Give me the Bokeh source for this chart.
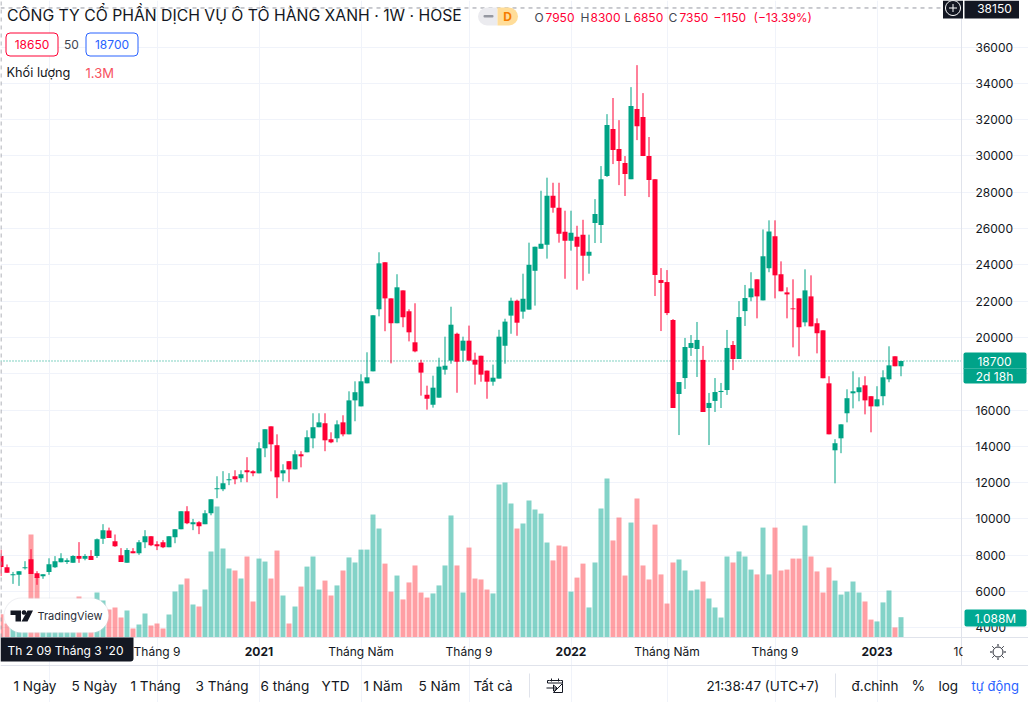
import math
from bokeh.plotting import figure
from bokeh.embed import file_html
from bokeh.resources import INLINE
from bokeh.models import (ColumnDataSource, Label, BoxAnnotation, PolyAnnotation,
                          FixedTicker, Range1d, BasicTickFormatter)

ohlc = [
(7950,8300,6850,7350),(7340,7490,7030,7030),(6900,7080,6420,6950),(6920,7120,6310,7120),(7280,7670,7210,7340),
(7780,8330,6970,6970),(7010,7120,6370,6750),(6840,6950,6700,6950),(7080,7830,6920,7500),(7340,7950,7300,7670),
(7610,8110,7610,7830),(7630,7830,7520,7720),(7580,8000,7580,7950),(7950,8720,7580,7800),(7800,8060,7720,7950),
(7950,8280,7740,7740),(7950,8920,7850,8880),(8900,9710,8620,9380),(9360,9520,8950,8950),(8770,9140,8460,8500),
(8000,8390,7630,7630),(7580,8390,7580,8280),(8220,8390,8110,8110),(8110,8830,8020,8720),(8720,9380,8390,9050),
(9050,9050,8500,8550),(8610,8770,8280,8500),(8720,8830,8390,8440),(8440,9050,8440,9050),(8990,9430,8660,9430),
(9430,10420,9430,10420),(10420,10700,9710,9760),(9710,10000,9380,9820),(9820,9870,9160,9600),(9710,10480,9710,10310),
(10310,11080,10200,11080),(11640,12350,11140,11690),(11640,12630,11530,11970),(12130,12520,11860,12190),(12350,12680,11910,12190),
(12240,12680,12020,12460),(12680,13400,12020,12570),(12620,12680,12350,12510),(12510,14220,12510,13890),(13890,14940,13400,14940),
(15100,15100,12620,14110),(14060,14660,11140,12290),(12510,13010,12070,12680),(13180,13180,12020,12730),(12730,13780,12730,13560),
(13560,13730,12840,13450),(13670,14880,13670,14500),(14440,15820,13890,15050),(15050,15820,15050,15320),(15270,15820,13730,14330),
(14390,14770,14170,14220),(14440,15430,14220,15210),(15320,15710,14550,14660),(14660,17030,14660,16530),(16530,17580,15380,16980),
(16200,17970,16200,17580),(17470,19180,17470,17800),(18130,21220,18130,21220),(21550,24690,21160,24080),(24140,24140,20340,22150),
(22150,22150,18570,20780),(20780,23480,20780,22760),(22590,22590,20560,21110),(21440,21550,19780,20280),(19730,21880,19180,19230),
(18610,18770,16790,18060),(16840,17340,16020,16620),(16290,17890,16130,17230),(16680,18880,16680,18390),(18220,20040,17950,18440),
(18720,21690,18550,20700),(20200,20260,16950,18660),(19270,20040,18660,19820),(19820,20650,18720,18720),(18770,19160,17400,18500),
(18990,18990,17560,17950),(18170,18170,16620,17560),(17560,18500,17340,17780),(17730,20420,17730,20040),(19540,21030,18550,20870),
(21200,22190,20200,22020),(22020,22080,20090,20810),(21420,23510,21030,22130),(21530,25220,21530,24000),(23670,25000,21750,25000),
(24890,28080,24890,25160),(25110,28800,24340,27810),(27810,28520,26870,27140),(27140,28520,25220,25710),(25820,26980,23230,25330),
(25330,26980,24780,25770),(25550,26150,22630,25000),(25660,26480,23120,24500),(24500,25660,23510,24720),(26300,27620,25200,26800),
(26190,29440,25200,28720),(28890,32300,28840,31700),(31480,33190,29550,30320),(30380,31970,28390,29720),(29610,29990,27790,29000),
(28720,33790,28720,32750),(32580,35000,30870,31640),(32140,33460,29990,29990),(29990,31040,27730,28670),(28720,28720,22280,23440),
(23160,23820,20350,23000),(23050,23710,21230,21340),(20960,21010,16110,16110),(16880,17540,14620,17540),(17760,19970,17160,19470),
(19420,20130,18980,19690),(19360,20850,17820,19860),(18760,19530,15890,15890),(16110,16940,14070,16390),(16500,17760,15890,16990),
(16990,17490,16110,17050),(17100,20410,16830,19420),(19580,19800,18200,18810),(18810,22000,18810,21120),(21450,22890,20630,22170),
(22210,23590,21990,22700),(23200,23200,21050,22260),(22040,25950,22040,24470),(23810,26450,23590,25840),(25570,26450,22150,23420),
(23480,24190,22540,22540),(22480,22760,21050,22370),(21600,23200,19450,21550),(22150,22150,18960,20560),(20830,23750,20610,22590),
(22260,23420,20610,20610),(20780,21050,19120,20230),(20390,20390,17750,17750),(17470,17860,14660,14660),(13780,14390,11960,14170),
(14440,15210,13620,15210),(15820,17140,15320,16650),(16920,18130,16090,17030),(16980,17800,16480,17250),(17360,17860,15760,16530),
(16760,16760,14770,16200),(16200,17310,16200,16590),(16760,18190,16260,17800),(17690,19510,17530,18460),(18960,18960,18410,18410),
(18410,18700,17860,18700),
]
volumes = [
1.25,0.75,1.0,0.9,1.3,5.52,3.23,1.1,1.3,1.2,1.2,1.0,1.1,2.2,1.2,1.4,2.41,1.98,1.5,1.61,
1.07,1.45,0.48,0.70,1.29,0.64,0.75,0.48,1.23,2.46,2.84,3.16,1.77,1.66,2.57,4.61,7.02,4.77,3.70,3.59,
3.16,4.34,1.93,4.23,4.07,3.16,4.66,2.25,0.75,1.66,2.73,3.80,4.34,2.57,3.05,2.25,2.79,3.59,4.29,4.02,
4.71,4.71,6.59,5.84,3.96,2.46,3.32,2.04,2.95,3.86,2.41,2.14,2.36,2.79,3.86,6.54,3.86,2.41,4.82,3.16,
3.11,2.57,2.36,8.20,8.30,7.18,5.84,6.11,7.34,6.86,6.64,5.09,4.13,4.93,4.88,2.46,3.21,3.96,1.61,4.02,
6.91,8.52,5.20,6.43,3.32,6.16,7.45,3.86,3.11,6.05,3.38,1.82,4.02,4.18,3.59,2.52,2.57,3.00,2.09,1.61,
1.07,4.34,4.02,4.61,4.34,3.64,3.38,5.89,3.38,5.89,3.59,3.64,4.23,4.23,6.00,4.34,3.54,2.41,3.75,3.05,
2.30,2.46,3.00,2.41,1.93,0.96,0.86,1.88,2.52,0.54,1.088,
]
price_ticks = list(range(4000, 36001, 2000))
time_ticks = {8: "Tháng Năm", 26: "Tháng 9", 43: "", 60: "Tháng Năm", 78: "Tháng 9", 95: "",
              111: "Tháng Năm", 129: "Tháng 9", 146: ""}
year_ticks = {43: "2021", 95: "2022", 146: "2023"}
last_price = 18700
cross_price = 38150
ranges = ["1 Ngày", "5 Ngày", "1 Tháng", "3 Tháng", "6 tháng", "YTD", "1 Năm", "5 Năm", "Tất cả"]

W, H = 1028, 702
FONT = "Inter"
INK = "#131722"
UP, DOWN = "#00A385", "#FF0034"
VUP, VDOWN = "#08A892", "#FF4049"
LINE = "#E0E3EB"
GRID = "#F0F3FA"

# the frame fills the whole canvas so that header, footer and tags are not clipped
PX_PER_BAR = 6.0
PRICE_PER_PX = 55.096
VOL_PX_PER_M = 18.66
xpx = lambda px: (px - 0.5) / PX_PER_BAR
ypx = lambda px: 38562 - px * PRICE_PER_PX

inds = list(range(len(ohlc)))
o = [r[0] for r in ohlc]; h = [r[1] for r in ohlc]; l = [r[2] for r in ohlc]; c = [r[3] for r in ohlc]
up = [ci >= oi for oi, ci in zip(o, c)]
src = ColumnDataSource(dict(
    x=inds, high=h, low=l,
    top=[max(a, b) for a, b in zip(o, c)], bottom=[min(a, b) for a, b in zip(o, c)],
    color=[UP if u else DOWN for u in up], vcolor=[VUP if u else VDOWN for u in up],
    vol=volumes))

p = figure(width=W, height=H, output_backend="svg", toolbar_location=None,
           x_range=Range1d(xpx(0), xpx(W)), y_range=Range1d(ypx(H), ypx(0)),
           x_axis_type="linear", y_axis_location="right",
           min_border_left=0, min_border_top=0, min_border_right=0, min_border_bottom=0,
           margin=(0, 0, 0, 0), background_fill_color="white", border_fill_color="white")
p.outline_line_color = None
p.extra_y_ranges = {"vol": Range1d((637 - H) / VOL_PX_PER_M, 637 / VOL_PX_PER_M)}

p.xaxis.ticker = FixedTicker(ticks=list(time_ticks))
p.xaxis.major_label_overrides = time_ticks
p.yaxis.ticker = FixedTicker(ticks=price_ticks)
p.yaxis.formatter = BasicTickFormatter(use_scientific=False)
for ax in (p.xaxis[0], p.yaxis[0]):
    ax.major_tick_line_color = None
    ax.minor_tick_line_color = None
    ax.axis_line_color = LINE
    ax.major_label_text_font = FONT
    ax.major_label_text_font_size = "12px"
    ax.major_label_text_color = INK
p.xaxis.fixed_location = ypx(637)
p.yaxis.fixed_location = xpx(961)
p.xaxis.bounds = (xpx(0), xpx(W))
p.yaxis.bounds = (ypx(665), ypx(0))
p.yaxis.major_label_standoff = 8
p.xaxis.major_label_standoff = 0
p.grid.grid_line_color = GRID
p.grid.grid_line_width = 1
p.xgrid.bounds = (ypx(637), ypx(0))
p.ygrid.bounds = (xpx(0), xpx(961))

p.vbar(x="x", width=5/6, top="vol", bottom=0, fill_color="vcolor", fill_alpha=0.5, line_color=None,
       y_range_name="vol", source=src)
p.line([xpx(0), xpx(961)], [last_price, last_price], line_color=UP, line_width=1, line_dash="1 2")
p.segment(x0="x", x1="x", y0="high", y1="low", line_color="color", line_width=1, source=src)
p.vbar(x="x", width=5/6, top="top", bottom="bottom", fill_color="color", line_color=None, source=src)
p.line([xpx(0), xpx(942)], [cross_price, cross_price], line_color="#9598A1", line_width=1, line_dash="4 4")
p.line([0, 0], [ypx(637), ypx(0)], line_color="#9598A1", line_width=1, line_dash="4 4")

LEVEL = "annotation"


def txt(x, y, s, size=12, color=INK, align="left", bold=False):
    p.add_layout(Label(x=x, y=y, x_units="canvas", y_units="canvas", text=s, text_font=FONT,
                       text_font_size=f"{size}px", text_color=color, text_align=align, text_baseline="middle",
                       text_font_style="bold" if bold else "normal", level=LEVEL))


def box(x0, y0, x1, y1, fill="white", line=None, radius=0, alpha=1.0, width=1):
    p.add_layout(BoxAnnotation(left=x0, right=x1, top=y0, bottom=y1,
                               left_units="canvas", right_units="canvas", top_units="canvas", bottom_units="canvas",
                               fill_color=fill, fill_alpha=alpha, line_color=line, line_alpha=1 if line else 0,
                               line_width=width, border_radius=radius, level=LEVEL))


def poly(pts, fill=None, line=INK, width=1.0):
    p.add_layout(PolyAnnotation(xs=[a for a, _ in pts], ys=[b for _, b in pts],
                                xs_units="canvas", ys_units="canvas",
                                fill_color=fill, fill_alpha=1 if fill else 0,
                                line_color=line, line_alpha=1 if line else 0, line_width=width, level=LEVEL))


def circle(cx, cy, r, **kw):
    poly([(cx + r*math.cos(t*math.pi/12), cy + r*math.sin(t*math.pi/12)) for t in range(24)], **kw)


# x axis leftovers: partially hidden next label, then white cover of price column
txt(953, 651, "10")
for k, s in year_ticks.items():
    txt(0.5 + 6*k, 651, s, bold=True, align="center")
box(962, 638, 1028, 664)

# footer line
box(0, 664.5, 1028, 665.5, fill=LINE)

# header
txt(6.5, 15, "CÔNG TY CỔ PHẦN DỊCH VỤ Ô TÔ HÀNG XANH · 1W · HOSE", size=15.75)
box(477.5, 7, 497, 25, fill="#EBEBEF", radius=(9, 0, 0, 9))
box(497, 7, 517.5, 25, fill="#FFDD99", radius=(0, 9, 9, 0))
box(483, 14.5, 493, 17, fill="#9598A1", radius=1)
txt(507, 16, "D", size=12, color="#F57C00", align="center", bold=True)
for x, lab, vx, val in [(534, "O", 545, "7950"), (580, "H", 590, "8300"), (624, "L", 633, "6850"), (668, "C", 679, "7350")]:
    txt(x, 17, lab, color="#434651")
    txt(vx, 17, val, color=DOWN)
txt(713, 17, "−1150", color=DOWN)
txt(753, 17, "(−13.39%)", color=DOWN)

box(5.5, 32.5, 57.5, 55.5, line=DOWN, radius=4)
txt(31.5, 44, "18650", color=DOWN, align="center")
txt(71, 44, "50", size=12, color="#434651", align="center")
box(85.5, 32.5, 137.5, 55.5, line="#2962FF", radius=4)
txt(111.5, 44, "18700", color="#2962FF", align="center")
txt(6, 72, "Khối lượng", size=12.75)
txt(85, 72, "1.3M", size=13, color="#F7525F")

# crosshair tags
box(942.5, 0, 962.5, 18, fill=INK)
circle(952.5, 7.5, 7.5, line="white")
poly([(948.5, 7.5), (956.5, 7.5)], line="white")
poly([(952.5, 3.5), (952.5, 11.5)], line="white")
box(964, 0, 1018.5, 18, fill=INK)
txt(994, 8, "38150", color="white", align="center")
box(0, 637, 133, 661, fill=INK, radius=(0, 0, 3, 0))
txt(7, 650, "Th 2 09 Tháng 3 '20", color="white")

# value tags
box(963, 352, 1026, 383, fill="#00A389", radius=2)
box(963, 367.5, 1026, 368.5, fill="#33B5A1")
txt(994, 360.5, "18700", color="white", align="center")
txt(994, 375.5, "2d 18h", size=12, color="white", align="center")
box(964, 609, 1026, 626, fill="#00A993", radius=2)
txt(995, 617.5, "1.088M", color="white", align="center")

# TradingView badge
box(3, 597, 109, 633, fill="#D1D4DC", alpha=0.35, radius=18)
box(4, 598, 108, 632, fill="white", radius=17)
poly([(10, 610), (20.5, 610), (20.5, 621), (15, 621), (15, 614.5), (10, 614.5)], fill=INK, line=None)
circle(23.5, 612, 2.3, fill=INK, line=None)
poly([(27, 610), (32.5, 610), (27, 621), (21, 621)], fill=INK, line=None)
txt(37, 615.5, "TradingView", size=11, color="#2A2E39")

# footer
for x, s in zip([13, 71, 130, 195, 260, 321, 363, 418, 473], ranges):
    txt(x, 685, s, size=13.6)
box(528.5, 673, 529.5, 697, fill=LINE)
box(834.5, 673, 835.5, 697, fill=LINE)
poly([(549, 680), (547, 680), (547, 682.5), (562, 682.5), (562, 680), (560, 680)], line=INK)
poly([(562, 683), (562, 692), (553, 692)], line=INK)
poly([(546, 687.5), (556, 687.5)], line=INK)
poly([(553, 684.5), (556.5, 687.5), (553, 690.5)], line=INK)
poly([(551, 678), (551, 681)], line=INK)
poly([(558, 678), (558, 681)], line=INK)
txt(706, 685, "21:38:47 (UTC+7)", size=13.5)
txt(851, 685, "đ.chỉnh", size=13.5)
txt(911, 685, "%", size=14)
txt(938, 685, "log", size=13.5)
txt(971, 685, "tự động", size=13, color="#2962FF")

# settings (sun) icon
circle(997.5, 651.5, 5, line=INK)
for t in range(8):
    a = t*math.pi/4
    poly([(997.5 + 6*math.cos(a), 651.5 + 6*math.sin(a)), (997.5 + 8*math.cos(a), 651.5 + 8*math.sin(a))], line=INK)

open("out.html", "w").write(file_html(p, INLINE))
